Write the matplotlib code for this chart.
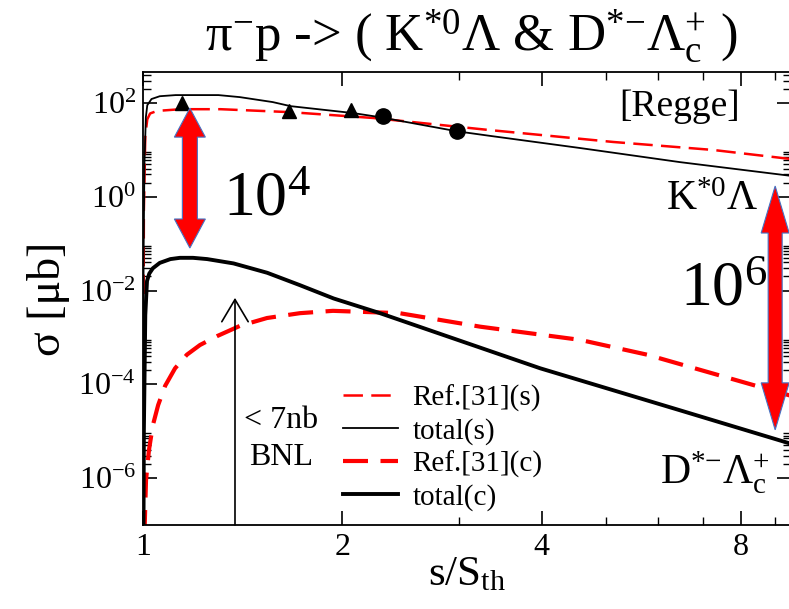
import numpy as np
import matplotlib
matplotlib.use('Agg')
import matplotlib.pyplot as plt
from matplotlib import ticker
from matplotlib.patches import Polygon
from matplotlib.transforms import IdentityTransform

plt.rcParams['font.family'] = ['Liberation Serif', 'DejaVu Serif']
plt.rcParams['mathtext.fontset'] = 'custom'
plt.rcParams['mathtext.rm'] = 'Liberation Serif'
plt.rcParams['mathtext.it'] = 'Liberation Serif:italic'
plt.rcParams['mathtext.bf'] = 'Liberation Serif:bold'
plt.rcParams['lines.scale_dashes'] = False

# strangeness channel: pi- p -> K*0 Lambda
s_tot_s = [1.0005, 1.002, 1.005, 1.010, 1.015, 1.030, 1.060, 1.12, 1.30, 1.40, 1.57, 1.67,
           2.08, 2.28, 2.98, 3.34, 4.57, 6.47, 9.52]
sig_tot_s = [1e-8, 0.05, 5.0, 50.0, 90.0, 122.0, 140.0, 148.0, 148.0, 134.0, 105.0, 86.0,
             61.0, 50.0, 25.0, 20.0, 11.0, 5.5, 2.8]

s_ref_s = [1.0005, 1.003, 1.008, 1.015, 1.025, 1.05, 1.14, 1.31, 1.67, 2.23, 3.30, 5.13, 7.26, 9.52]
sig_ref_s = [1e-8, 0.5, 20.0, 45.0, 60.0, 68.0, 74.0, 74.0, 64.0, 48.0, 27.0, 14.8, 10.0, 6.4]

# charm channel: pi- p -> D*- Lambda_c+
s_tot_c = [1.0005, 1.003, 1.008, 1.014, 1.022, 1.035, 1.06, 1.10, 1.137, 1.19, 1.25, 1.37, 1.54,
           1.727, 1.94, 2.28, 3.98, 6.47, 9.52]
sig_tot_c = [1e-9, 1e-5, 3e-3, 0.016, 0.023, 0.030, 0.039, 0.047, 0.050, 0.050, 0.047, 0.038, 0.024,
             0.013, 0.0068, 0.0033, 2.2e-4, 2.8e-5, 5.4e-6]

s_ref_c = [1.0005, 1.006, 1.0105, 1.021, 1.035, 1.054, 1.080, 1.118, 1.165, 1.219, 1.294, 1.401,
           1.539, 1.726, 1.936, 2.44, 3.23, 4.57, 5.77, 7.26, 9.52]
sig_ref_c = [1e-9, 1e-7, 9e-7, 4e-6, 1.35e-5, 3.6e-5, 9.3e-5, 2.2e-4, 4.3e-4, 6.9e-4, 1.07e-3, 1.77e-3,
             2.6e-3, 3.3e-3, 3.7e-3, 3.3e-3, 1.7e-3, 8.9e-4, 4.3e-4, 1.7e-4, 5.7e-5]

# measured K*0 Lambda cross sections
s_tri = [1.145, 1.66, 2.06]
sig_tri = [100.0, 67.0, 71.0]
s_dot = [2.30, 2.98]
sig_dot = [53.0, 25.0]

# BNL upper limit, 7 nb
s_bnl = 1.377
sig_bnl = 7e-3

x_major = [1, 2, 4, 8]
x_minor = [3, 5, 6, 7, 9]
y_major = [1e-6, 1e-4, 1e-2, 1e0, 1e2]

fig = plt.figure(figsize=(7.89, 6.09), dpi=100)
ax = fig.add_axes([143 / 789, 84 / 609, 648 / 789, 453 / 609])

ax.set_xscale('log', base=2)
ax.set_yscale('log')
ax.set_xlim(1, 9.52)
ax.set_ylim(1e-7, 4.6e2)

ax.plot(s_ref_s, sig_ref_s, color='red', lw=1.8, dashes=(14, 6), label='Ref.[31](s)')
ax.plot(s_tot_s, sig_tot_s, color='black', lw=1.3, label='total(s)')
ax.plot(s_ref_c, sig_ref_c, color='red', lw=3.0, dashes=(18, 9), label='Ref.[31](c)')
ax.plot(s_tot_c, sig_tot_c, color='black', lw=2.8, label='total(c)')

ax.plot(s_tri, sig_tri, '^', color='black', ms=10, zorder=4)
ax.plot(s_dot, sig_dot, 'o', color='black', ms=11, zorder=4)

ax.xaxis.set_major_locator(ticker.FixedLocator(x_major))
ax.xaxis.set_minor_locator(ticker.FixedLocator(x_minor))
ax.xaxis.set_major_formatter(ticker.FixedFormatter([str(v) for v in x_major]))
ax.xaxis.set_minor_formatter(ticker.NullFormatter())

# minor ticks at 2..9 times every labelled decade
y_minor = [k * d for d in y_major for k in range(2, 10) if k * d < 4.6e2]
ax.yaxis.set_major_locator(ticker.FixedLocator(y_major))
ax.yaxis.set_minor_locator(ticker.FixedLocator(y_minor))
ax.yaxis.set_major_formatter(ticker.FuncFormatter(
    lambda v, pos: '10$^{%d}$' % round(np.log10(v))))
ax.yaxis.set_minor_formatter(ticker.NullFormatter())

ax.tick_params(which='both', direction='in', top=True, right=True, labelsize=23)
ax.tick_params(which='major', length=10, width=1.2)
ax.tick_params(which='minor', length=6, width=1.0)
ax.tick_params(axis='x', pad=6)
ax.tick_params(axis='y', pad=5)
for sp in ax.spines.values():
    sp.set_linewidth(1.3)

ax.set_xlabel('s/S$_{\\rm th}$', fontsize=31, labelpad=-5)
ax.set_ylabel('σ [μb]', fontsize=33, labelpad=6)
fig.text(471 / 789, 1 - 36 / 609, 'π$^{{-}}$p -> ( K$^{*0}$Λ & D$^{*{-}}$Λ$_{\\rm c}^{+}$ )',
         fontsize=38, ha='center', va='center')

ax.legend(loc='upper left', bbox_to_anchor=(0.308, 0.31), frameon=False, fontsize=21,
          handlelength=1.9, handletextpad=0.5, labelspacing=0.2, borderpad=0, borderaxespad=0)

ax.annotate('', xy=(s_bnl, sig_bnl), xytext=(s_bnl, 1e-7),
            arrowprops=dict(arrowstyle='->,head_length=1.6,head_width=0.95', lw=1.2,
                            color='black', mutation_scale=10, shrinkA=0, shrinkB=0))
ax.text(1.616, 1.7e-5, '< 7nb', fontsize=23, ha='center', va='center')
ax.text(1.616, 2.8e-6, 'BNL', fontsize=23, ha='center', va='center')

ax.text(7.97, 82, '[Regge]', fontsize=27, ha='right', va='center')
ax.text(8.49, 0.85, 'K$^{*0}$Λ', fontsize=30, ha='right', va='center')
ax.text(8.85, 1.3e-6, 'D$^{*{-}}$Λ$_{\\rm c}^{+}$', fontsize=30, ha='right', va='center')
ax.text(1.32, 0.85, '10$^{4}$', fontsize=46, ha='left', va='center')
ax.text(6.47, 0.0102, '10$^{6}$', fontsize=46, ha='left', va='center')


def double_arrow(ax, x, y_lo, y_hi, shaft, head_w, head_len):
    # fat two-headed arrow; widths given in pixels
    px, p_lo = ax.transData.transform((x, y_lo))
    _, p_hi = ax.transData.transform((x, y_hi))
    s, w = shaft / 2, head_w / 2
    verts = [(px, p_hi), (px + w, p_hi - head_len), (px + s, p_hi - head_len),
             (px + s, p_lo + head_len), (px + w, p_lo + head_len), (px, p_lo),
             (px - w, p_lo + head_len), (px - s, p_lo + head_len),
             (px - s, p_hi - head_len), (px - w, p_hi - head_len)]
    ax.add_patch(Polygon(verts, closed=True, transform=IdentityTransform(), fc='red',
                         ec='#4472c4', lw=0.8, zorder=6, clip_on=False))


double_arrow(ax, 1.177, 0.081, 78.0, 15, 31, 29)
double_arrow(ax, 9.01, 1.07e-5, 1.7, 14, 28, 47)

fig.savefig('out.png', dpi=100)
